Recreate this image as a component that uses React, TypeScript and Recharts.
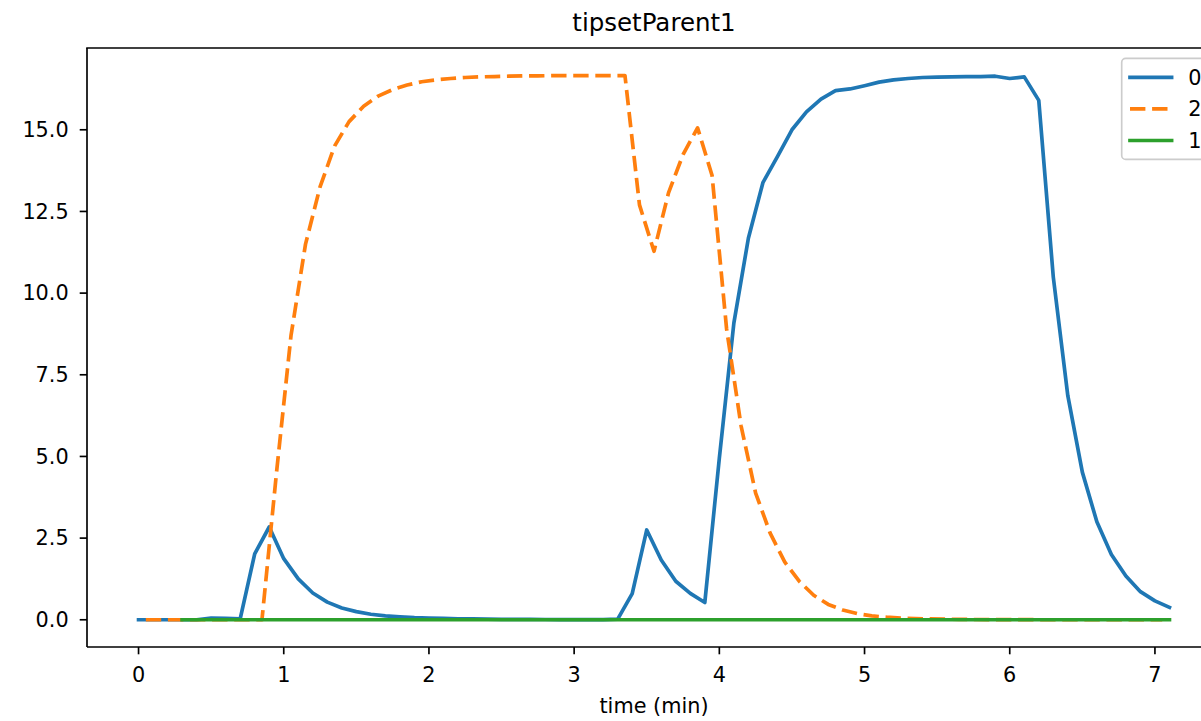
import React from 'react';
import { LineChart, Line, XAxis, YAxis } from 'recharts';

// ---- data ----
// series "0": sampled every 0.1 min starting at 0
const blueStart = 0;
const blueStep = 0.1;
const blueValues = [
  0, 0, 0, 0, 0, 0.05, 0.04, 0.03, 2.02, 2.84,
  1.87, 1.25, 0.82, 0.54, 0.36, 0.25, 0.17, 0.12, 0.09, 0.065,
  0.05, 0.04, 0.03, 0.025, 0.02, 0.015, 0.012, 0.01, 0.008, 0.006,
  0.005, 0.004, 0.003, 0.02, 0.8, 2.75, 1.83, 1.18, 0.81, 0.53,
  4.95, 9.08, 11.68, 13.38, 14.18, 15.0, 15.55, 15.94, 16.2, 16.25,
  16.35, 16.46, 16.53, 16.57, 16.6, 16.61, 16.62, 16.63, 16.63, 16.64,
  16.57, 16.62, 15.9, 10.49, 6.86, 4.52, 3.0, 2.0, 1.34, 0.86,
  0.58, 0.38,
];

// series "2": sampled every 0.1 min starting at 0.05
const orangeStart = 0.05;
const orangeStep = 0.1;
const orangeValues = [
  0, 0, 0, 0, 0, 0, 0, 0, 0, 4.5,
  8.7, 11.5, 13.25, 14.5, 15.25, 15.72, 16.03, 16.23, 16.37, 16.47,
  16.53, 16.57, 16.6, 16.62, 16.63, 16.64, 16.65, 16.65, 16.66, 16.66,
  16.66, 16.66, 16.66, 16.66, 12.7, 11.28, 13.07, 14.24, 15.06, 13.6,
  8.9, 5.93, 3.88, 2.65, 1.77, 1.18, 0.75, 0.47, 0.3, 0.19,
  0.12, 0.08, 0.05, 0.035, 0.025, 0.018, 0.013, 0.009, 0.006, 0.004,
  0.003, 0.002, 0, 0, 0, 0, 0, 0, 0, 0,
  0,
];

// series "1": sampled every 0.1 min starting at 0.3
const greenStart = 0.3;
const greenStep = 0.1;
const greenValues = [
  0, 0, 0, 0, 0, 0, 0, 0, 0, 0,
  0, 0, 0, 0, 0, 0, 0, 0, 0, 0,
  0, 0, 0, 0, 0, 0, 0, 0, 0, 0,
  0, 0, 0, 0, 0, 0, 0, 0, 0, 0,
  0, 0, 0, 0, 0, 0, 0, 0, 0, 0,
  0, 0, 0, 0, 0, 0, 0, 0, 0, 0,
  0, 0, 0, 0, 0, 0, 0, 0, 0,
];

const seriesNames = ['0', '2', '1'];
const seriesColors = ['#1f77b4', '#ff7f0e', '#2ca02c'];
const seriesDash = ['', '15.4 6.7', ''];

const xTicks = [0, 1, 2, 3, 4, 5, 6, 7];
const yTicks = [0, 2.5, 5, 7.5, 10, 12.5, 15];
const titleText = 'tipsetParent1';
const xLabelText = 'time (min)';

// ---- helpers ----
const toPoints = (start: number, step: number, values: number[]) =>
  values.map((v, i) => ({ t: Math.round((start + i * step) * 1000) / 1000, v }));

const seriesData = [
  toPoints(blueStart, blueStep, blueValues),
  toPoints(orangeStart, orangeStep, orangeValues),
  toPoints(greenStart, greenStep, greenValues),
];

const FONT = '"DejaVu Sans", sans-serif';
const CHART_W = 1240;
const CHART_H = 721;
const PLOT_LEFT = 87;
const PLOT_TOP = 48;
const PLOT_RIGHT = 1221;
const X_DOMAIN: [number, number] = [-0.355, 7.455];
const Y_DOMAIN: [number, number] = [-0.8335, 17.5035];
const LW = 3.7;

export default function App() {
  const tickStyle = { fill: '#000', fontSize: 20.8, fontFamily: FONT };
  const axisLineStyle = { stroke: '#000', strokeWidth: 1.67 };

  // legend geometry
  const lgX = 1121.7;
  const lgY = 58.4;
  const lgW = 88.5;
  const lgH = 101;
  const rowY = [77.3, 108.9, 140.5];

  return (
    <div
      style={{
        position: 'fixed',
        left: 0,
        top: 0,
        width: 1201,
        height: 721,
        overflow: 'hidden',
        background: '#fff',
      }}
    >
      <div style={{ position: 'absolute', left: 0, top: 0 }}>
        <LineChart
          width={CHART_W}
          height={CHART_H}
          margin={{ top: PLOT_TOP, right: CHART_W - PLOT_RIGHT, bottom: 0, left: 0 }}
        >
          <XAxis
            dataKey="t"
            type="number"
            domain={X_DOMAIN}
            ticks={xTicks}
            interval={0}
            allowDataOverflow
            height={74}
            tickSize={7.3}
            tickMargin={13}
            tick={tickStyle}
            axisLine={axisLineStyle}
            tickLine={axisLineStyle}
          />
          <YAxis
            type="number"
            domain={Y_DOMAIN}
            ticks={yTicks}
            interval={0}
            allowDataOverflow
            width={PLOT_LEFT}
            tickSize={7.3}
            tickMargin={11}
            tick={tickStyle}
            tickFormatter={(v: number) => v.toFixed(1)}
            axisLine={axisLineStyle}
            tickLine={axisLineStyle}
          />
          {seriesData.map((d, i) => (
            <Line
              key={seriesNames[i]}
              data={d}
              dataKey="v"
              name={seriesNames[i]}
              type="linear"
              stroke={seriesColors[i]}
              strokeWidth={LW}
              strokeDasharray={seriesDash[i] || undefined}
              strokeLinecap={seriesDash[i] ? 'butt' : 'square'}
              strokeLinejoin="round"
              dot={false}
              activeDot={false}
              isAnimationActive={false}
            />
          ))}
        </LineChart>
      </div>
      <svg
        width={CHART_W}
        height={CHART_H}
        style={{ position: 'absolute', left: 0, top: 0, pointerEvents: 'none' }}
      >
        {/* top spine of the axes frame */}
        <line
          x1={PLOT_LEFT - 0.8}
          x2={PLOT_RIGHT}
          y1={PLOT_TOP}
          y2={PLOT_TOP}
          stroke="#000"
          strokeWidth={1.67}
        />
        <text
          x={654}
          y={31}
          textAnchor="middle"
          fontFamily={FONT}
          fontSize={24.5}
          fill="#000"
        >
          {titleText}
        </text>
        <text
          x={654}
          y={713}
          textAnchor="middle"
          fontFamily={FONT}
          fontSize={20.8}
          fill="#000"
        >
          {xLabelText}
        </text>
        <rect
          x={lgX}
          y={lgY}
          width={lgW}
          height={lgH}
          rx={4}
          ry={4}
          fill="#fff"
          fillOpacity={0.8}
          stroke="#cccccc"
          strokeWidth={1.67}
        />
        {seriesNames.map((n, i) => (
          <g key={n}>
            <line
              x1={lgX + 8.3}
              x2={lgX + 8.3 + 41.6}
              y1={rowY[i]}
              y2={rowY[i]}
              stroke={seriesColors[i]}
              strokeWidth={LW}
              strokeDasharray={seriesDash[i] || undefined}
              strokeLinecap={seriesDash[i] ? 'butt' : 'square'}
            />
            <text
              x={lgX + 8.3 + 41.6 + 16.6}
              y={rowY[i]}
              dy="0.36em"
              fontFamily={FONT}
              fontSize={20.8}
              fill="#000"
            >
              {n}
            </text>
          </g>
        ))}
      </svg>
    </div>
  );
}
